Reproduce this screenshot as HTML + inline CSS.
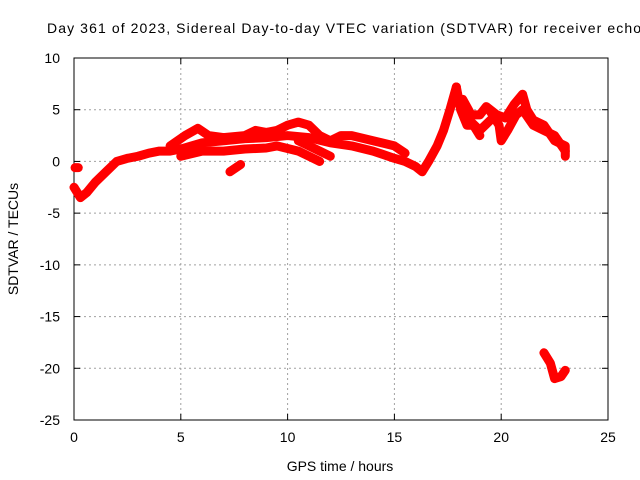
<!DOCTYPE html>
<html><head><meta charset="utf-8"><style>
body{margin:0;background:#fff;}
svg{display:block;font-family:"Liberation Sans",sans-serif;}
</style></head><body>
<svg id="chart" width="640" height="480">
<text x="47" y="33" font-size="14" textLength="594" lengthAdjust="spacing">Day 361 of 2023, Sidereal Day-to-day VTEC variation (SDTVAR) for receiver echo</text>
<g id="grid"></g><g id="axes"></g><g id="data"></g>
<text x="340" y="471" font-size="14" text-anchor="middle">GPS time / hours</text>
<text x="18" y="239" font-size="14" text-anchor="middle" transform="rotate(-90 18 239)">SDTVAR / TECUs</text>
</svg>
<script>
const xTicks=[0,5,10,15,20,25];
const yTicks=[10,5,0,-5,-10,-15,-20,-25];
const trackMain=[[0,-2.5],[0.3,-3.5],[0.6,-3],[1,-2],[1.5,-1],[2,0],[2.5,0.3],[3,0.5],[3.5,0.8],[4,1],[4.5,1],[5,1.2],[5.5,1.5],[6,1.8],[7,2],[8,2.2],[9,2.3],[10,2.5],[11,2.3],[12,1.8],[13,1.5],[14,1],[15,0.3],[15.5,0],[16,-0.5],[16.3,-1],[16.6,0],[17,1.5],[17.3,3],[17.6,5],[17.9,7.2]];
const trackUpper=[[4.5,1.5],[5.2,2.5],[5.8,3.2],[6.3,2.5],[7,2.3],[8,2.5],[8.5,3],[9,2.8],[9.5,3],[10,3.5],[10.5,3.8],[11,3.5],[11.5,2.5],[12,2],[12.5,2.5],[13,2.5],[14,2],[15,1.5],[15.5,0.8]];
const trackLower1=[[5,0.5],[6,1],[7,1],[8,1.2],[9,1.3],[9.5,1.5],[10.5,1],[11,0.5],[11.5,0]];
const trackLower2=[[10.5,2],[11.5,1],[12,0.5]];
const trackShort=[[7.3,-1],[7.8,-0.3]];
const trackSpot=[[0.05,-0.6],[0.2,-0.6]];
const trackA=[[17.9,7.2],[18.1,5],[18.4,3.5],[18.7,3.5],[19,2.5]];
const trackB=[[18.2,6],[18.6,4.5],[19,4.5],[19.3,5.3],[19.8,4.5],[20.2,4.2],[20.6,5.5],[21,6.5],[21.2,5],[21.5,4],[22,3.5],[22.5,2],[23,1.5],[23,0.5]];
const trackC=[[19.5,4.8],[19.9,3.5],[20,2],[20.3,3],[20.7,4.5],[21,5],[21.5,3.5],[22,3],[22.5,2.5],[23,1]];
const trackD=[[18.5,4],[19,3],[19.5,4],[19.8,4.2]];
const trackBottom=[[22,-18.5],[22.3,-19.5],[22.5,-21],[22.8,-20.8],[23,-20.2]];
const tracks=[trackMain,trackUpper,trackLower1,trackLower2,trackShort,trackSpot,trackA,trackB,trackC,trackD,trackBottom];

const X0=74,X1=608,Y0=58,Y1=420;
const xs=h=>X0+(h-0)/(25-0)*(X1-X0);
const ys=v=>Y0+(10-v)/(10-(-25))*(Y1-Y0);
const NS="http://www.w3.org/2000/svg";
function mk(tag,attrs,parent){const e=document.createElementNS(NS,tag);for(const k in attrs)e.setAttribute(k,attrs[k]);parent.appendChild(e);return e;}
const grid=document.getElementById('grid'),axes=document.getElementById('axes'),data=document.getElementById('data');
xTicks.forEach(t=>{
  if(t>0&&t<25){const l=mk('line',{x1:xs(t),x2:xs(t),y1:Y0,y2:Y1,stroke:'#a0a0a0','stroke-dasharray':'2,3'},grid);
  
  }
  mk('line',{x1:xs(t),x2:xs(t),y1:Y1,y2:Y1-6,stroke:'#000'},axes);
  mk('line',{x1:xs(t),x2:xs(t),y1:Y0,y2:Y0+6,stroke:'#000'},axes);
  const tx=mk('text',{x:xs(t),y:Y1+22,'font-size':14,'text-anchor':'middle'},axes);tx.textContent=t;
  
  
});
yTicks.forEach(t=>{
  if(t<10&&t>-25){const l=mk('line',{x1:X0,x2:X1,y1:ys(t),y2:ys(t),stroke:'#a0a0a0','stroke-dasharray':'2,3'},grid);
  
  }
  mk('line',{x1:X0,x2:X0+6,y1:ys(t),y2:ys(t),stroke:'#000'},axes);
  mk('line',{x1:X1,x2:X1-6,y1:ys(t),y2:ys(t),stroke:'#000'},axes);
  const tx=mk('text',{x:X0-14,y:ys(t)+5,'font-size':14,'text-anchor':'end'},axes);tx.textContent=t;
  
  
});
const fr=mk('rect',{x:X0,y:Y0,width:X1-X0,height:Y1-Y0,fill:'none',stroke:'#000'},axes);


tracks.forEach(tr=>{
  const p=mk('polyline',{points:tr.map(d=>xs(d[0])+','+ys(d[1])).join(' '),fill:'none',stroke:'#ff0000','stroke-width':9,'stroke-linejoin':'round','stroke-linecap':'round'},data);
  
  
});
</script>
</body></html>
